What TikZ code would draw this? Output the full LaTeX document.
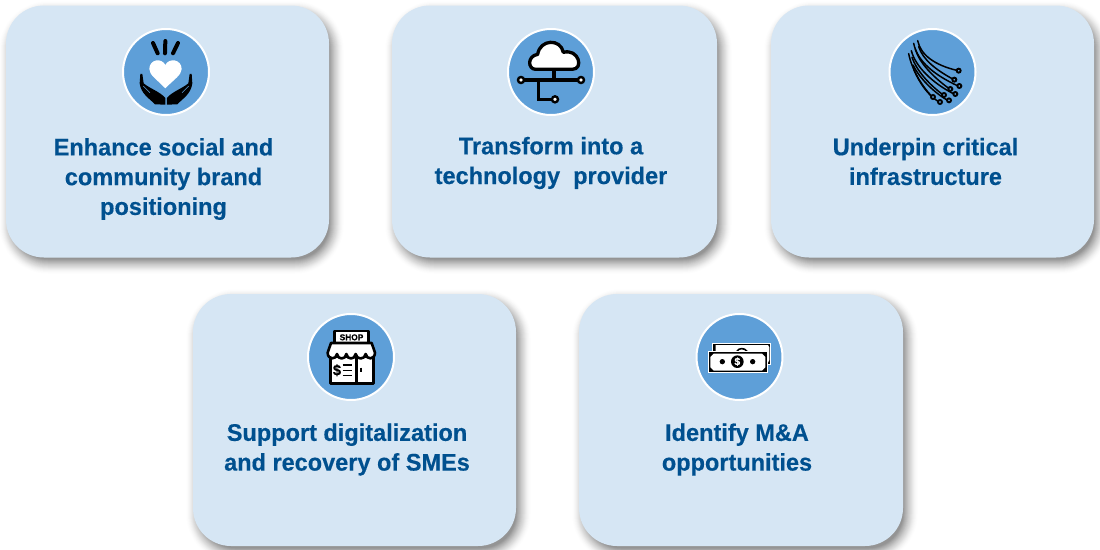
\documentclass[tikz,border=0pt]{standalone}
\usepackage{fontspec}
\setmainfont[BoldFeatures={FakeStretch=0.98,FakeBold=0.35}]{Liberation Sans}
\definecolor{cardfill}{HTML}{D6E6F4}
\definecolor{disc}{HTML}{5E9FD8}
\definecolor{headblue}{HTML}{00508F}
\tikzset{
  x=1pt,y=-1pt,
  cardbox/.style={draw=none,fill=cardfill,rounded corners=38pt,inner sep=0pt,minimum width=#1,minimum height=252pt},
  cardtext/.style={text=headblue,align=center,inner sep=0pt,font=\fontsize{24}{29.7}\selectfont\bfseries},
  icondisc/.style={circle,fill=disc,draw=white,line width=2pt,minimum size=86pt,inner sep=0pt},
  zoomed/.style={shift={(#1)},x=0.3333pt,y=-0.3333pt},
  ink/.style={draw=black,line width=#1,line cap=round,line join=round},
  port/.style={fill=white,draw=black,line width=2.4pt},
  fibre/.style={draw=black,line width=1.5pt,line cap=round},
  ring/.style={draw=black,line width=1.9pt,fill=disc}
}
\newcommand{\softshadow}[4]{% x0 y0 x1 y1
  \foreach \e in {11,10.5,...,-4}{
    \pgfmathsetmacro{\op}{0.002+0.03*(11-\e)/15}
    \fill[black,opacity=\op,rounded corners={38pt+\e pt}]
      ({#1+4-\e},{#2+6-\e}) rectangle ({#3+4+\e},{#4+6+\e});
  }}
\begin{document}
\begin{tikzpicture}
\useasboundingbox (0,0) rectangle (1100,549);
\softshadow{6}{6}{329}{257}
\softshadow{392}{6}{717}{257}
\softshadow{771}{6}{1094}{257}
\softshadow{193}{294}{516}{546}
\softshadow{579}{294}{903}{546}
\node[cardbox=323pt] (c1) at (167.5,131.5) {};
\node[cardbox=325pt] (c2) at (554.5,131.5) {};
\node[cardbox=323pt] (c3) at (932.5,131.5) {};
\node[cardbox=323pt] (c4) at (354.5,420) {};
\node[cardbox=324pt] (c5) at (741,420) {};

\node[icondisc] (d1) at (166,72) {};
\node[icondisc] (d2) at (551,72) {};
\node[icondisc] (d3) at (932.5,72) {};
\node[icondisc] (d4) at (351,357) {};
\node[icondisc] (d5) at (739.5,357) {};

\node[cardtext] (t1) at (163.5,179) {Enhance social and\\community brand\\positioning};
\node[cardtext] (t2) at (551,163) {Transform into a\\technology\ \ provider};
\node[cardtext] (t3) at (925.5,161.5) {Underpin critical\\infrastructure};
\node[cardtext] (t4) at (347,449.5) {Support digitalization\\and recovery of SMEs};
\node[cardtext] (t5) at (737,449.5) {Identify M\&A\\opportunities};

% icon 1: hands and heart
\begin{scope}[zoomed={110,20}]
  \draw[ink=4pt] (129,69) -- (143,100);
  \draw[ink=4pt] (166,63) -- (165,100);
  \draw[ink=4pt] (204,69) -- (189,100);
  \fill[white] (166,205) .. controls (140,178) and (118,165) .. (118,147)
     .. controls (118,118) and (155,112) .. (166,135)
     .. controls (177,112) and (215,118) .. (215,147)
     .. controls (215,165) and (192,178) .. (166,205) -- cycle;
  \fill[black] (91,162) -- (97,162) -- (101,190) .. controls (118,205) and (150,215) .. (166,234)
     -- (166,254) -- (135,253) .. controls (118,235) and (93,222) .. (89,190) -- cycle;
  \fill[black] (245,162) -- (239,162) -- (235,190) .. controls (218,205) and (186,215) .. (171,234)
     -- (171,254) -- (202,253) .. controls (219,235) and (243,222) .. (247,190) -- cycle;
  \draw[disc,line width=.5pt] (100,198) -- (120,218);
  \draw[disc,line width=.5pt] (236,198) -- (216,218);
\end{scope}

% icon 2: cloud network
\begin{scope}[zoomed={495,20}]
  \draw[ink=3.3pt,fill=white] (122,148)
    .. controls (98,148) and (96,108) .. (128,103)
    .. controls (135,57) and (197,55) .. (205,97)
    .. controls (252,85) and (267,148) .. (232,148) -- cycle;
  \draw[ink=3.3pt,line cap=butt,line join=miter] (177,148) -- (177,180);
  \draw[ink=3.3pt,line cap=butt] (78,180) -- (258,180);
  \draw[ink=3.3pt,line cap=butt,line join=miter] (130,180) -- (130,238) -- (180,238);
  \foreach \p in {(78,180),(258,180),(180,238)} \draw[port] \p circle (9);
\end{scope}

% icon 3: fibre bundle
\begin{scope}[zoomed={878,20}]
  \draw[fibre] (119,62) .. controls (128,105) and (170,135) .. (236,151);
  \draw[fibre] (122,80) .. controls (135,120) and (175,150) .. (224,177);
  \draw[fibre] (107,70) .. controls (118,125) and (170,165) .. (238,197);
  \draw[fibre] (112,88) .. controls (125,130) and (165,170) .. (212,205);
  \draw[fibre] (100,92) .. controls (112,140) and (165,190) .. (226,221);
  \draw[fibre] (102,112) .. controls (115,150) and (150,190) .. (193,223);
  \draw[fibre] (92,101) .. controls (102,150) and (130,195) .. (160,228);
  \draw[fibre] (105,135) .. controls (125,175) and (165,215) .. (207,240);
  \draw[fibre] (108,150) .. controls (125,190) and (150,225) .. (180,244);
  \foreach \p in {(242,152),(229,179),(244,198),(217,207),(232,222),(198,225),(165,231),(213,241),(186,246)}
    \draw[ring] \p circle (6);
\end{scope}

% icon 4: shop
\begin{scope}[zoomed={295,310}]
  \draw[ink=2.6pt,fill=white] (119,63) rectangle (220,99);
  \node[inner sep=0pt,font=\fontsize{8.5}{9}\selectfont\bfseries] (shop) at (169.5,82) {SHOP};
  \draw[ink=2.6pt,fill=white] (106,140) rectangle (235,221);
  \draw[ink=2.6pt,fill=white] (108,99) -- (230,99) -- (240,128)
     .. controls (240,150) and (214,150) .. (212,132)
     .. controls (210,150) and (184,150) .. (182,132)
     .. controls (180,150) and (156,150) .. (154,132)
     .. controls (152,150) and (128,150) .. (126,132)
     .. controls (124,150) and (98,150) .. (98,128) -- cycle;
  \draw[ink=2.6pt,line cap=butt] (184,145) -- (184,221);
  \node[inner sep=0pt,font=\fontsize{15}{15}\selectfont\bfseries] (dollar) at (126,181) {\$};
  \draw[ink=1.5pt,line cap=butt] (143,165) -- (172,165) (143,181) -- (172,181) (143,197) -- (172,197);
  \draw[ink=1.8pt,line cap=butt] (198,173) -- (198,187);
\end{scope}

% icon 5: banknotes
\begin{scope}[zoomed={685,310}]
  \fill[white] (82,99) rectangle (259,166);
  \fill[black] (85,102) rectangle (256,163);
  \fill[white] (92,105) -- (249,105) -- (253,112) -- (253,150) -- (249,158) -- (92,158) -- cycle;
  \draw[ink=1.6pt,line cap=butt] (156,124) .. controls (162,113) and (178,113) .. (186,124);
  \fill[white] (69,124) rectangle (248,189);
  \fill[black] (72,127) rectangle (245,186);
  \fill[white] (86,131) -- (231,131) -- (241,141) -- (241,172) -- (231,182) -- (86,182) -- (76,172) -- (76,141) -- cycle;
  \fill[black] (157,155) circle (19);
  \fill[black] (112,155) circle (8);
  \fill[black] (203,155) circle (8);
  \node[inner sep=0pt,text=white,font=\fontsize{10.5}{11}\selectfont\bfseries] (bill) at (157,155) {\$};
\end{scope}
\end{tikzpicture}
\end{document}
